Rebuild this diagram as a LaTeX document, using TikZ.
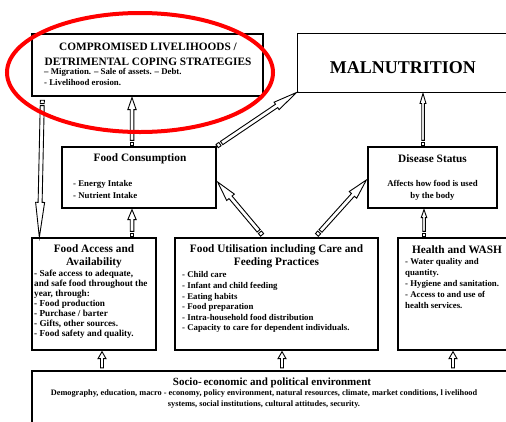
\documentclass[tikz,border=0pt]{standalone}
\usepackage{fontspec}
\setmainfont{Liberation Serif}
\usetikzlibrary{calc}

\tikzset{
  frame/.style={draw=black, line width=1.3pt, fill=white, inner sep=0pt},
  arrowline/.style={draw=black, line width=0.9pt, fill=white, line join=miter},
  ttl/.style={font=\fontsize{11.3}{12.5}\selectfont\bfseries, align=center, inner sep=0pt},
  bdy/.style={font=\fontsize{8.8}{10.6}\selectfont\bfseries, align=left, inner sep=0pt, anchor=north west},
}

% hollow block arrow: tail, tip, shaft half width, head half width, head length
\newcommand\blockarrow[5]{%
  \coordinate (bah) at ($(#2)!#5!(#1)$);
  \draw[arrowline] ($(#1)!#3!90:(#2)$) -- ($(bah)!#3!90:(#2)$) -- ($(bah)!#4!90:(#2)$)
    -- (#2) -- ($(bah)!#4!-90:(#2)$) -- ($(bah)!#3!-90:(#2)$) -- ($(#1)!#3!-90:(#2)$) -- cycle;
}
% same arrow with a small detached tail block
\newcommand\tailedarrow[5]{%
  \coordinate (baa) at ($(#1)!0.6pt!(#2)$);
  \coordinate (bab) at ($(#1)!4pt!(#2)$);
  \coordinate (bac) at ($(#1)!6pt!(#2)$);
  \draw[arrowline] ($(baa)!#3!90:(#2)$) -- ($(bab)!#3!90:(#2)$) -- ($(bab)!#3!-90:(#2)$) -- ($(baa)!#3!-90:(#2)$) -- cycle;
  \blockarrow{bac}{#2}{#3}{#4}{#5}
}

\begin{document}
\begin{tikzpicture}[x=1pt, y=-1pt]
\useasboundingbox (0,0) rectangle (506,421);
\clip (0,0) rectangle (506,421);
\fill[white] (0,0) rectangle (506,421);

% boxes
\node[frame, minimum width=231pt, minimum height=62pt] (cl) at (147.5,65) {};
\node[frame, line width=1pt, minimum width=225pt, minimum height=59pt] (mal) at (409.5,62.5) {};
\node[frame, minimum width=154pt, minimum height=61pt] (fc) at (139,177.5) {};
\node[frame, minimum width=129pt, minimum height=61pt] (ds) at (432.5,177.5) {};
\node[frame, minimum width=124pt, minimum height=112pt] (fa) at (94,294) {};
\node[frame, minimum width=203pt, minimum height=112pt] (fu) at (276.5,294) {};
\node[frame, minimum width=124pt, minimum height=112pt] (hw) at (460,294) {};
\node[frame, minimum width=490pt, minimum height=70pt] (so) at (277,406) {};

% texts
\node[ttl, font=\fontsize{11.3}{15}\selectfont\bfseries] (clt) at (148,54.5) {COMPROMISED LIVELIHOODS /\\DETRIMENTAL COPING STRATEGIES};
\node[bdy, font=\fontsize{8.8}{11}\selectfont\bfseries] (clb) at (44,68) {-- Migration. -- Sale of assets. -- Debt.\\- Livelihood erosion.};
\node[font=\fontsize{18}{20}\selectfont\bfseries, inner sep=0pt] (malt) at (403,68) {MALNUTRITION};

\node[ttl] (fct) at (140,159) {Food Consumption};
\node[bdy, font=\fontsize{8.8}{11.7}\selectfont\bfseries] (fcb) at (73,180) {- Energy Intake\\- Nutrient Intake};

\node[ttl] (dst) at (432.5,159) {Disease Status};
\node[bdy, align=center, anchor=north, font=\fontsize{8.8}{11.7}\selectfont\bfseries] (dsb) at (432.5,180) {Affects how food is used\\by the body};

\node[ttl] (fat) at (94,256.5) {Food Access and\\Availability};
\node[bdy, font=\fontsize{9.2}{10}\selectfont\bfseries] (fab) at (34,270) {- Safe access to adequate,\\and safe food throughout the\\year, through:\\- Food production\\- Purchase / barter\\- Gifts, other sources.\\- Food safety and quality.};

\node[ttl] (fut) at (276.5,256.5) {Food Utilisation including Care and\\Feeding Practices};
\node[bdy, font=\fontsize{8.8}{10.6}\selectfont\bfseries] (fub) at (182,271.5) {- Child care\\- Infant and child feeding\\- Eating habits\\- Food preparation\\- Intra-household food distribution\\- Capacity to care for dependent individuals.};

\node[ttl] (hwt) at (457,250) {Health and WASH};
\node[bdy, font=\fontsize{8.8}{10.8}\selectfont\bfseries] (hwb) at (405,258.5) {- Water quality and\\quantity.\\- Hygiene and sanitation.\\- Access to and use of\\health services.};

\node[ttl, font=\fontsize{11}{12}\selectfont\bfseries] (sot) at (272,383) {Socio-\,economic and political environment};
\node[font=\fontsize{8.3}{11}\selectfont\bfseries, align=center, inner sep=0pt] (sob) at (264,399.5) {Demography, education, macro - economy, policy environment, natural resources, climate, market conditions, l ivelihood\\systems, social institutions, cultural attitudes, security.};

% connectors
\coordinate (a1t) at ($(fc.north)+(-7,0)$);
\coordinate (a1h) at ($(a1t |- cl.south)+(0,1)$);
\tailedarrow{a1t}{a1h}{1.8pt}{4.2pt}{12pt}

\coordinate (a2t) at (a1t |- fa.north);
\coordinate (a2h) at ($(a1t |- fc.south)+(0,1)$);
\tailedarrow{a2t}{a2h}{1.8pt}{4.2pt}{10pt}

\coordinate (a3t) at ($(ds.north)+(-9.5,0)$);
\coordinate (a3h) at ($(a3t |- mal.south)+(0,1)$);
\tailedarrow{a3t}{a3h}{1.3pt}{3pt}{10pt}

\coordinate (a4h) at ($(ds.south)+(-8.5,1)$);
\coordinate (a4t) at (a4h |- hw.north);
\tailedarrow{a4t}{a4h}{1.3pt}{2.8pt}{8pt}

\fill (fc.north east) circle (1.6pt);
\tailedarrow{fc.north east}{mal.south west}{2pt}{4.5pt}{24pt}

\coordinate (a6t) at ($(fu.north)+(-14,-2)$);
\coordinate (a6h) at ($(fc.east)+(1,4.5)$);
\tailedarrow{a6t}{a6h}{2pt}{5pt}{20pt}

\coordinate (a7t) at ($(fu.north)+(40,-2)$);
\coordinate (a7h) at ($(ds.west)+(-1,2.5)$);
\tailedarrow{a7t}{a7h}{2pt}{5pt}{20pt}

\coordinate (a8t) at ($(cl.south west)+(11,3)$);
\coordinate (a8h) at ($(fa.north west)+(8,0)$);
\tailedarrow{a8t}{a8h}{2pt}{4.5pt}{35pt}

\coordinate (a9h) at ($(fa.south)+(8,1)$);
\coordinate (a9t) at ($(a9h |- so.north)+(0,-2.5)$);
\blockarrow{a9t}{a9h}{1.5pt}{4pt}{7pt}
\coordinate (a10h) at ($(fu.south)+(5.5,1)$);
\coordinate (a10t) at ($(a10h |- so.north)+(0,-2.5)$);
\blockarrow{a10t}{a10h}{1.5pt}{4pt}{7pt}
\coordinate (a11h) at ($(hw.south)+(-7,1)$);
\coordinate (a11t) at ($(a11h |- so.north)+(0,-2.5)$);
\blockarrow{a11t}{a11h}{1.5pt}{4pt}{7pt}

% highlight ring
\draw[red, line width=4pt] (140,72.5) ellipse [x radius=133pt, y radius=59.5pt];
\end{tikzpicture}
\end{document}
